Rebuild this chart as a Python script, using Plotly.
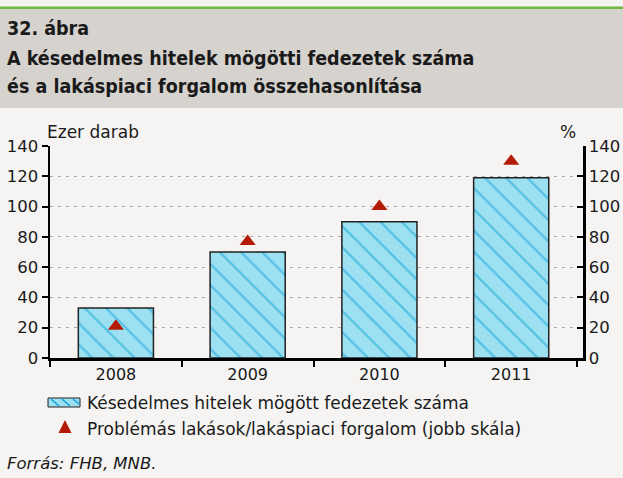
import plotly.graph_objects as go

years = ["2008", "2009", "2010", "2011"]
collateral_thousand = [33, 70, 90, 119]
problem_ratio_pct = [21, 77, 100, 130]
y_ticks = [0, 20, 40, 60, 80, 100, 120, 140]

FONT = "DejaVu Sans"
FONT_T = "DejaVu Sans Condensed"
TXT = "#1a1a1a"
BAR_BG = "#9de0f2"
BAR_FG = "#0ea2d6"
RED = "#b31b06"

fig = go.Figure()
fig.add_trace(go.Bar(
    x=years, y=collateral_thousand, width=0.57,
    name="Késedelmes hitelek mögött fedezetek száma",
    marker=dict(color=BAR_BG, line=dict(color="#222222", width=1.5),
                pattern=dict(shape="\\", fgcolor=BAR_FG, bgcolor=BAR_BG, size=15, solidity=0.15)),
    yaxis="y", showlegend=False, hoverinfo="skip",
))
fig.add_trace(go.Scatter(
    x=years, y=problem_ratio_pct, mode="markers",
    name="Problémás lakások/lakáspiaci forgalom (jobb skála)",
    marker=dict(symbol="triangle-up", size=14, color=RED),
    yaxis="y2", showlegend=False, hoverinfo="skip",
))

fig.update_layout(
    width=623, height=478, autosize=False,
    margin=dict(l=50, r=40, t=146, b=120, autoexpand=False),
    paper_bgcolor="#f5f4f2", plot_bgcolor="#f5f4f2",
    font=dict(family=FONT, size=16, color=TXT),
    xaxis=dict(range=[-0.5, 3.545], showline=True, linecolor="#000", linewidth=2.5, ticks="outside",
               tickson="boundaries", ticklen=6, tickwidth=2, tickcolor="#000", automargin=False,
               tickfont=dict(size=16), showgrid=False, zeroline=False),
    yaxis=dict(range=[0, 140], tickvals=y_ticks, showline=True, linecolor="#000", linewidth=2.5,
               ticks="outside", ticklen=6, tickwidth=2, tickcolor="#000", automargin=False,
               showgrid=True, gridcolor="#a8a8a8", griddash="3px,5px", gridwidth=1,
               zeroline=False, tickfont=dict(size=16.5)),
    yaxis2=dict(range=[0, 140], tickvals=y_ticks, overlaying="y", side="right", showline=True,
                linecolor="#000", linewidth=2.5, ticks="inside", ticklen=6, tickwidth=2,
                tickcolor="#000", showgrid=False, zeroline=False, automargin=False,
                tickfont=dict(size=16.5)),
)

PW = 533

def px(xp, yp):
    return (xp - 50) / PW, (358 - yp) / 212

shapes = []
hx0, _ = px(0, 0)
hx1, _ = px(623, 0)
_, hy0 = px(0, 108)
_, hy1 = px(0, 9)
_, gy1 = px(0, 6.5)
shapes.append(dict(type="rect", xref="paper", yref="paper", x0=hx0, x1=hx1, y0=hy0, y1=hy1,
                   fillcolor="#d6d2ce", line_width=0, layer="below"))
shapes.append(dict(type="rect", xref="paper", yref="paper", x0=hx0, x1=hx1, y0=hy1, y1=gy1,
                   fillcolor="#74b83e", line_width=0, layer="below"))

# legend patch
lx0, ly0 = px(48, 407)
lx1, ly1 = px(80, 398)
shapes.append(dict(type="rect", xref="paper", yref="paper", x0=lx0, x1=lx1, y0=ly0, y1=ly1,
                   fillcolor=BAR_BG, line=dict(color="#222222", width=1)))
for (ax, ay, bx, by) in [(51, 399, 59, 406), (62, 399, 70, 406), (73, 399, 79, 404)]:
    a = px(ax, ay); b = px(bx, by)
    shapes.append(dict(type="line", xref="paper", yref="paper", x0=a[0], y0=a[1], x1=b[0], y1=b[1],
                       line=dict(color=BAR_FG, width=1.5)))
# legend triangle
t1 = px(58.5, 433); t2 = px(71.5, 433); t3 = px(65, 420)
shapes.append(dict(type="path", xref="paper", yref="paper",
                   path=f"M{t1[0]},{t1[1]} L{t2[0]},{t2[1]} L{t3[0]},{t3[1]} Z",
                   fillcolor=RED, line_width=0))
fig.update_layout(shapes=shapes)

def ann(text, xp, yp, size=16, xanchor="left", bold=False, italic=False, family=FONT, xs=-3):
    if bold:
        text = f"<b>{text}</b>"
    if italic:
        text = f"<i>{text}</i>"
    x, y = px(xp, yp)
    fig.add_annotation(text=text, x=x, y=y, xref="paper", yref="paper", showarrow=False,
                       xanchor=xanchor, yanchor="middle", xshift=xs if xanchor == "left" else 0,
                       font=dict(size=size, family=family, color=TXT))

ann("32. ábra", 8, 28, 19.5, bold=True, family=FONT_T)
ann("A késedelmes hitelek mögötti fedezetek száma", 8, 58, 19.5, bold=True, family=FONT_T)
ann("és a lakáspiaci forgalom összehasonlítása", 8, 87, 19.5, bold=True, family=FONT_T)
ann("Ezer darab", 48, 132, 17)
ann("%", 578, 132, 17, xanchor="right")
ann("Késedelmes hitelek mögött fedezetek száma", 88, 403, 17)
ann("Problémás lakások/lakáspiaci forgalom (jobb skála)", 88, 429, 17)
ann("Forrás: FHB, MNB.", 8, 463, 16.5, italic=True)

fig.write_html(
    "out.html",
    config={"displayModeBar": False, "responsive": False, "staticPlot": True},
    post_script=("document.documentElement.style.margin='0';document.documentElement.style.overflow='hidden';"
                 "document.body.style.margin='0';document.body.style.padding='0';"
                 "document.body.style.overflow='hidden';"),
)
